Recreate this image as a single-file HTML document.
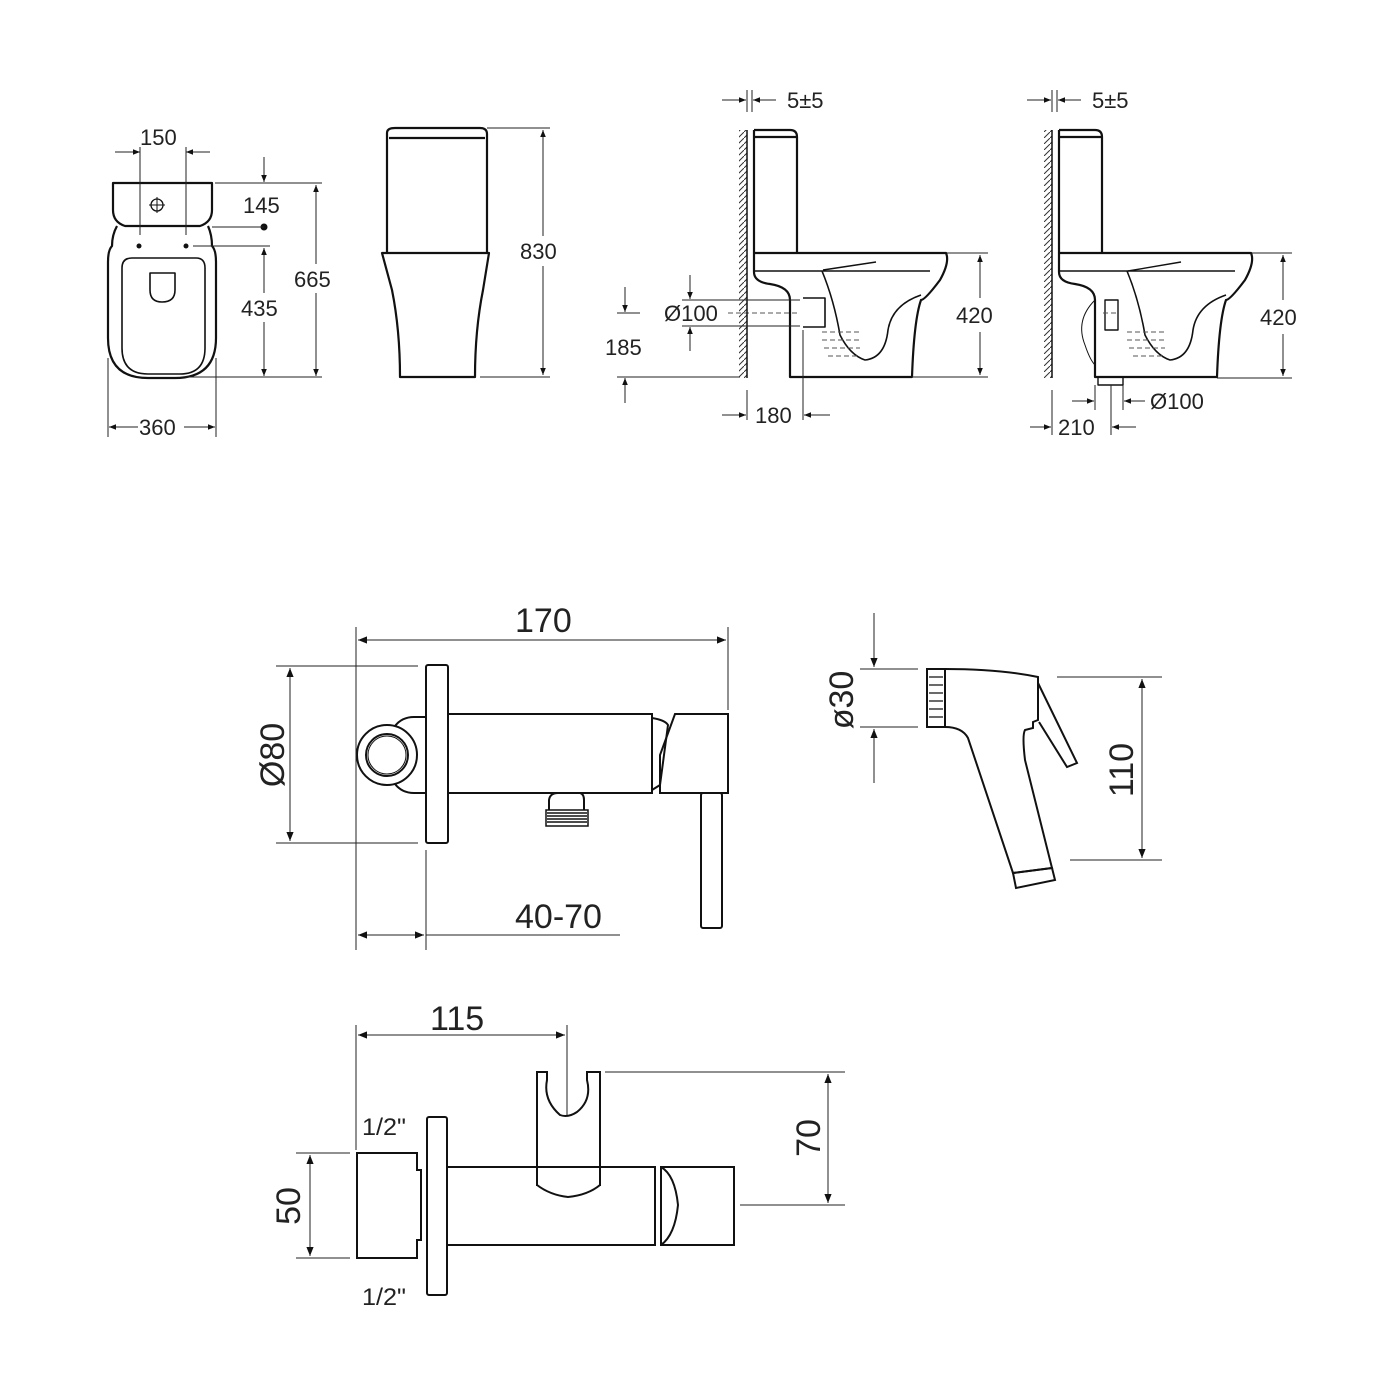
<!DOCTYPE html>
<html><head><meta charset="utf-8"><style>html,body{margin:0;padding:0;background:#fff}svg{display:block}text{font-family:"Liberation Sans",Arial,sans-serif;fill:#222}</style></head><body>
<svg width="1400" height="1400" viewBox="0 0 1400 1400" xmlns="http://www.w3.org/2000/svg">
<defs>
<marker id="a" viewBox="0 0 10 10" refX="10" refY="5" markerWidth="9" markerHeight="7" orient="auto-start-reverse" markerUnits="userSpaceOnUse"><path d="M0,1 L10,5 L0,9z" fill="#111"/></marker>
<marker id="b" viewBox="0 0 10 10" refX="10" refY="5" markerWidth="14" markerHeight="9" orient="auto-start-reverse" markerUnits="userSpaceOnUse"><path d="M0,1 L10,5 L0,9z" fill="#111"/></marker>
<pattern id="h" width="6" height="6" patternUnits="userSpaceOnUse"><path d="M0,6 L6,0" stroke="#333" stroke-width="1"/></pattern>
</defs>
<g fill="none" stroke="#111" stroke-width="2.2" stroke-linejoin="round">
<path d="M113,183 H212 V210 Q212,222 200,226 H125 Q113,222 113,210 Z"/>
<path d="M117,226 Q112,235 112,246 Q108,250 108,262 V338 Q108,378 148,378 H175 Q216,378 216,338 V262 Q216,250 212,246 Q212,235 208,226"/>
<path d="M122,268 Q122,258 132,258 H196 Q205,258 205,268 V348 Q205,374 180,374 H148 Q122,374 122,348 Z" stroke-width="1.6"/>
<path d="M150,273 H175 V290 Q175,302 162,302 Q150,302 150,290 Z" stroke-width="1.6"/>
<path d="M387,133 Q387,128 395,128 H480 Q487,128 487,134 V253 M387,133 V253 M389,138 H485" />
<path d="M382,253 H489 L483,290 Q475,330 475,377 H400 Q400,330 392,290 Z"/>
<path d="M754,130 H790 Q797,130 797,137 V253 M754,130 V253 M754,137 H797"/>
<path d="M754,253 H946 Q950,262 940,280 Q925,300 921,300 Q914,320 912,377 H790 V300 Q790,287 770,284 Q754,282 754,272 Z"/>
<path d="M754,271 H930" stroke-width="1.4"/>
<path d="M822,271 Q834,300 840,335 Q850,355 865,360 Q885,358 888,330 Q892,305 921,295" stroke-width="1.6"/>
<path d="M803,298 H825 V327 H803" stroke-width="1.6"/>
<path d="M823,270 L876,262" stroke-width="1.4"/>
<path d="M1059,130 H1095 Q1102,130 1102,137 V253 M1059,130 V253 M1059,137 H1102"/>
<path d="M1059,253 H1251 Q1255,262 1245,280 Q1230,300 1226,300 Q1219,320 1217,377 H1095 V300 Q1095,287 1075,284 Q1059,282 1059,272 Z"/>
<path d="M1059,271 H1235" stroke-width="1.4"/>
<path d="M1127,271 Q1139,300 1145,335 Q1155,355 1170,360 Q1190,358 1193,330 Q1197,305 1226,295" stroke-width="1.6"/>
<path d="M1105,300 H1118 V330 H1105 Z M1098,377 V385 H1123 V377" stroke-width="1.4"/>
<path d="M1128,271 L1181,262" stroke-width="1.4"/>
<path d="M1095,300 Q1075,320 1085,345 Q1090,360 1095,365" stroke-width="1"/>
</g>
<g stroke="#555" stroke-width="1" stroke-dasharray="5,3" fill="none">
<path d="M822,332 H862 M822,340 H862 M824,348 H860 M828,356 H858"/>
<path d="M1127,332 H1167 M1127,340 H1167 M1129,348 H1165 M1133,356 H1163"/>
<path d="M728,313 H800 M1103,313 H1118"/>
</g>
<rect x="739" y="130" width="8" height="248" fill="url(#h)"/>
<line x1="747" y1="130" x2="747" y2="378" stroke="#111" stroke-width="1.5"/>
<rect x="1044" y="130" width="8" height="248" fill="url(#h)"/>
<line x1="1052" y1="130" x2="1052" y2="378" stroke="#111" stroke-width="1.5"/>
<circle cx="157" cy="205" r="6" fill="none" stroke="#111" stroke-width="1.3"/>
<path d="M149,205 H165 M157,197 V213" stroke="#111" stroke-width="1"/>
<circle cx="139" cy="246" r="2.5" fill="#111"/><circle cx="186" cy="246" r="2.5" fill="#111"/><circle cx="264" cy="227" r="3.5" fill="#111"/>
<g stroke="#222" stroke-width="1" fill="none">
<path d="M140,147 V235 M186,147 V235"/>
<path d="M115,152 H140" marker-end="url(#a)"/><path d="M210,152 H186" marker-end="url(#a)"/>
<path d="M264,157 V182" marker-end="url(#a)"/>
<path d="M215,183 H322 M212,227 H264 M193,246 H270 M185,377 H322"/>
<path d="M264,248 V293" marker-start="url(#a)"/><path d="M264,322 V376" marker-end="url(#a)"/>
<path d="M316,185 V264" marker-start="url(#a)"/><path d="M316,293 V376" marker-end="url(#a)"/>
<path d="M108,358 V437 M216,358 V437"/>
<path d="M109,427 H138" marker-start="url(#a)"/><path d="M184,427 H215" marker-end="url(#a)"/>
<path d="M487,128 H550 M480,377 H550"/>
<path d="M543,130 V236" marker-start="url(#a)"/><path d="M543,266 V375" marker-end="url(#a)"/>
<path d="M747,90 V112 M752,90 V112 M722,100 H746" marker-end="url(#a)"/><path d="M776,100 H753" marker-end="url(#a)"/>
<path d="M947,253 H988 M912,377 H988"/>
<path d="M980,255 V298" marker-start="url(#a)"/><path d="M980,332 V375" marker-end="url(#a)"/>
<path d="M682,300 H800 M682,326 H800"/>
<path d="M690,275 V299" marker-end="url(#a)"/><path d="M690,351 V327" marker-end="url(#a)"/>
<path d="M617,313 H640 M617,377 H740"/>
<path d="M625,287 V312" marker-end="url(#a)"/><path d="M625,403 V378" marker-end="url(#a)"/>
<path d="M747,390 V420 M803,330 V420"/>
<path d="M722,415 H746" marker-end="url(#a)"/><path d="M830,415 H804" marker-end="url(#a)"/>
<path d="M1052,90 V112 M1057,90 V112 M1027,100 H1051" marker-end="url(#a)"/><path d="M1081,100 H1058" marker-end="url(#a)"/>
<path d="M1252,253 H1292 M1217,378 H1292"/>
<path d="M1283,255 V300" marker-start="url(#a)"/><path d="M1283,334 V376" marker-end="url(#a)"/>
<path d="M1095,385 V410 M1123,385 V410 M1052,390 V435 M1111,385 V435"/>
<path d="M1072,401 H1094" marker-end="url(#a)"/><path d="M1145,401 H1124" marker-end="url(#a)"/>
<path d="M1030,427 H1051" marker-end="url(#a)"/><path d="M1136,427 H1112" marker-end="url(#a)"/>
</g>
<g font-size="22">
<text x="140" y="145">150</text><text x="243" y="213">145</text><text x="241" y="316">435</text><text x="294" y="287">665</text><text x="139" y="435">360</text><text x="520" y="259">830</text>
<text x="787" y="108">5±5</text><text x="664" y="321">Ø100</text><text x="605" y="355">185</text><text x="956" y="323">420</text><text x="755" y="423">180</text>
<text x="1092" y="108">5±5</text><text x="1260" y="325">420</text><text x="1150" y="409">Ø100</text><text x="1058" y="435">210</text>
</g>
<g fill="none" stroke="#111" stroke-width="2">
<rect x="426" y="665" width="22" height="178" rx="2"/>
<rect x="448" y="714" width="204" height="79"/>
<path d="M652,718 Q665,720 668,725 L660,785 L652,790"/>
<path d="M675,714 H728 V793 H660 V755 Z"/>
<rect x="701" y="793" width="21" height="135" rx="2"/>
<path d="M395,726 Q402,717 414,717 H426 M395,784 Q402,793 414,793 H426"/>
<circle cx="387" cy="755" r="30"/><circle cx="387" cy="755" r="21"/><circle cx="387" cy="755" r="19" stroke-width="1"/>
<path d="M549,810 V800 Q550,793 558,793 H580 Q584,794 584,800 V810"/>
<path d="M546,810 H588 V826 H546 Z" stroke-width="1.5"/>
<rect x="427" y="1117" width="20" height="178" rx="2"/>
<path d="M357,1153 H417 V1170 H421 V1240 H417 V1258 H357 Z"/>
<rect x="447" y="1167" width="208" height="78"/>
<path d="M537,1186 V1072 H547 V1080 Q543,1100 560,1115 Q568,1118 577,1112 Q592,1100 587,1080 V1072 H600 V1186"/>
<path d="M537,1185 Q550,1195 568,1197 Q588,1195 600,1185" />
<path d="M661,1167 Q675,1175 678,1205 Q675,1235 661,1245"/>
<rect x="661" y="1167" width="73" height="78"/>
<rect x="927" y="669" width="18" height="58"/>
<path d="M945,669 Q1000,669 1038,677 V720 L1033,722 L1033,728 L1025,730 Q1022,735 1025,760 L1052,868 L1013,873 L968,738 Q962,727 945,727"/>
<path d="M1038,683 L1077,763 L1067,767 L1039,722"/>
<path d="M1013,873 L1052,868 L1055,880 L1016,888 Z"/>
</g>
<path d="M547,813 H587 M547,816 H587 M547,819 H587 M547,822 H587" stroke="#111" stroke-width="1.5"/>
<path d="M929,677 H943 M929,685 H943 M929,693 H943 M929,701 H943 M929,709 H943 M929,717 H943" stroke="#111" stroke-width="1.2"/>
<g stroke="#222" stroke-width="1" fill="none">
<path d="M356,627 V950 M728,627 V710 M426,850 V950"/>
<path d="M358,640 H726" marker-start="url(#b)" marker-end="url(#b)"/>
<path d="M276,666 H418 M276,843 H418"/>
<path d="M290,668 V841" marker-start="url(#b)" marker-end="url(#b)"/>
<path d="M358,935 H424" marker-start="url(#b)" marker-end="url(#b)"/><path d="M426,935 H620"/>
<path d="M356,1025 V1150 M567,1025 V1115"/>
<path d="M358,1035 H565" marker-start="url(#b)" marker-end="url(#b)"/>
<path d="M605,1072 H845 M740,1205 H845"/>
<path d="M828,1074 V1203" marker-start="url(#b)" marker-end="url(#b)"/>
<path d="M296,1153 H350 M296,1258 H350"/>
<path d="M310,1155 V1256" marker-start="url(#b)" marker-end="url(#b)"/>
<path d="M860,669 H918 M860,727 H918"/>
<path d="M874,613 V667" marker-end="url(#b)"/><path d="M874,783 V729" marker-end="url(#b)"/>
<path d="M1057,677 H1162 M1070,860 H1162"/>
<path d="M1142,679 V858" marker-start="url(#b)" marker-end="url(#b)"/>
</g>
<g font-size="34">
<text x="515" y="632">170</text>
<text x="515" y="928">40-70</text>
<text x="430" y="1030">115</text>
<text transform="translate(284,755) rotate(-90)" text-anchor="middle">Ø80</text>
<text transform="translate(853,700) rotate(-90)" text-anchor="middle">ø30</text>
<text transform="translate(1133,770) rotate(-90)" text-anchor="middle">110</text>
<text transform="translate(820,1138) rotate(-90)" text-anchor="middle">70</text>
<text transform="translate(300,1206) rotate(-90)" text-anchor="middle">50</text>
</g>
<g font-size="24"><text x="362" y="1135" textLength="44" lengthAdjust="spacingAndGlyphs">1/2"</text><text x="362" y="1305" textLength="44" lengthAdjust="spacingAndGlyphs">1/2"</text></g>
</svg>
</body></html>
